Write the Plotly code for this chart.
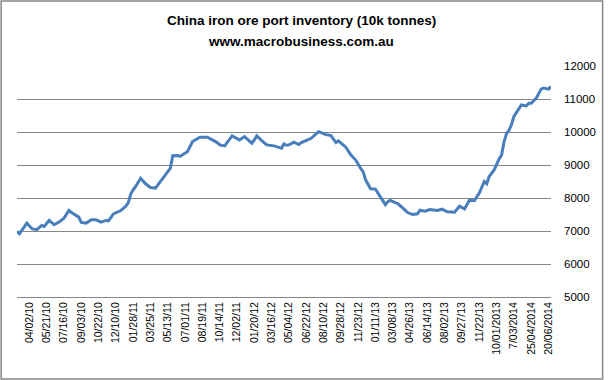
import plotly.graph_objects as go

# week index (category position) and inventory values (10k tonnes)
week_idx = [0, 1, 4, 6, 8, 10, 11, 13, 15, 17, 19, 21, 22, 25, 26, 28, 30, 32, 34, 36,
            37, 39, 42, 44, 45, 46, 47, 48, 50, 51, 52, 54, 56, 57, 59, 60, 62, 63, 65, 66,
            69, 71, 72, 74, 77, 79, 81, 82, 84, 87, 89, 90, 92, 95, 96, 97, 99, 101, 104, 106,
            107, 108, 109, 110, 112, 114, 115, 118, 119, 122, 123, 125, 127, 129, 130, 132, 133, 135, 137, 139,
            140, 141, 143, 145, 146, 149, 150, 151, 153, 154, 156, 158, 160, 162, 163, 165, 167, 169, 170, 172,
            174, 177, 179, 181, 183, 185, 187, 189, 190, 191, 193, 195, 196, 197, 198, 199, 200, 201, 204, 206,
            207, 208, 210, 212, 213, 215, 216]
inventory = [6990, 6920, 7240, 7070, 7040, 7170, 7140, 7320, 7190, 7270, 7390, 7620, 7560, 7420, 7260, 7240, 7340, 7340, 7270, 7320,
             7310, 7520, 7620, 7750, 7850, 8120, 8250, 8350, 8600, 8500, 8430, 8320, 8300, 8400, 8600, 8700, 8900, 9280, 9290, 9260,
             9410, 9710, 9760, 9840, 9840, 9760, 9680, 9610, 9580, 9880, 9810, 9760, 9860, 9660, 9760, 9880, 9740, 9610, 9580, 9540,
             9510, 9640, 9600, 9610, 9690, 9620, 9680, 9780, 9810, 10010, 9980, 9920, 9890, 9680, 9730, 9600, 9540, 9310, 9150, 8900,
             8800, 8550, 8280, 8270, 8150, 7800, 7890, 7930, 7860, 7830, 7700, 7560, 7500, 7520, 7630, 7600, 7650, 7640, 7620, 7660,
             7580, 7570, 7750, 7670, 7930, 7920, 8150, 8500, 8430, 8650, 8850, 9180, 9300, 9700, 9950, 10050, 10220, 10470, 10820, 10790,
             10870, 10870, 11020, 11300, 11330, 11300, 11380]

tick_labels = ["04/02/10", "05/21/10", "07/16/10", "09/03/10", "10/22/10", "12/10/10",
               "01/28/11", "03/25/11", "05/13/11", "07/01/11", "08/19/11", "10/14/11",
               "12/02/11", "01/20/12", "03/16/12", "05/04/12", "06/22/12", "08/10/12",
               "09/28/12", "11/23/12", "01/11/13", "03/08/13", "04/26/13", "06/14/13",
               "08/02/13", "09/27/13", "11/22/13", "10/01/2013", "7/03/2014", "25/04/2014",
               "20/06/2014"]
tick_idx = [5 + 7 * k for k in range(len(tick_labels))]

W, H = 608, 380
L, R, T, B = 17, 53, 66, 83
pw, ph = W - L - R, H - T - B

fig = go.Figure()
fig.add_trace(go.Scatter(x=week_idx, y=inventory, mode="lines",
                         line=dict(color="#4A7EBB", width=3), hoverinfo="skip"))

font_family = "Liberation Sans, Arial, sans-serif"
fig.update_layout(
    width=W, height=H, autosize=False,
    margin=dict(l=L, r=R, t=T, b=B, pad=0),
    paper_bgcolor="white", plot_bgcolor="white",
    showlegend=False,
    font=dict(family=font_family, color="#000000", size=11),
    xaxis=dict(range=[0, 216], tickmode="array", tickvals=tick_idx, ticktext=tick_labels,
               tickangle=-90, showgrid=False, zeroline=False, showline=True,
               linecolor="#868686", linewidth=1, ticks="", tickfont=dict(size=10.5)),
    yaxis=dict(range=[5000, 12000], dtick=1000, tickformat="d", side="right", showgrid=True,
               gridcolor="#868686", gridwidth=1, zeroline=False, showline=False,
               ticks="", tickfont=dict(size=11.5), ticklabelstandoff=12),
    annotations=[
        dict(text="<b>China iron ore port inventory (10k tonnes)</b>", xref="paper", yref="paper",
             x=(304 - L) / pw, y=(H - B - 20) / ph, xanchor="center", yanchor="middle",
             showarrow=False, font=dict(size=13.5, family=font_family)),
        dict(text="<b>www.macrobusiness.com.au</b>", xref="paper", yref="paper",
             x=(303 - L) / pw, y=(H - B - 42) / ph, xanchor="center", yanchor="middle",
             showarrow=False, font=dict(size=13.5, family=font_family)),
    ],
    shapes=[dict(type="rect", xref="paper", yref="paper",
                 x0=(1 - L) / pw, x1=(W - 1 - L) / pw,
                 y0=(H - B - (H - 1)) / ph, y1=(H - B - 1) / ph,
                 line=dict(color="#868686", width=1.5), fillcolor="rgba(0,0,0,0)")],
)

fig.write_html("out.html", config={"displayModeBar": False, "staticPlot": True},
               post_script="document.body.style.margin='0';document.body.style.padding='0';"
                           "document.body.style.overflow='hidden';")
